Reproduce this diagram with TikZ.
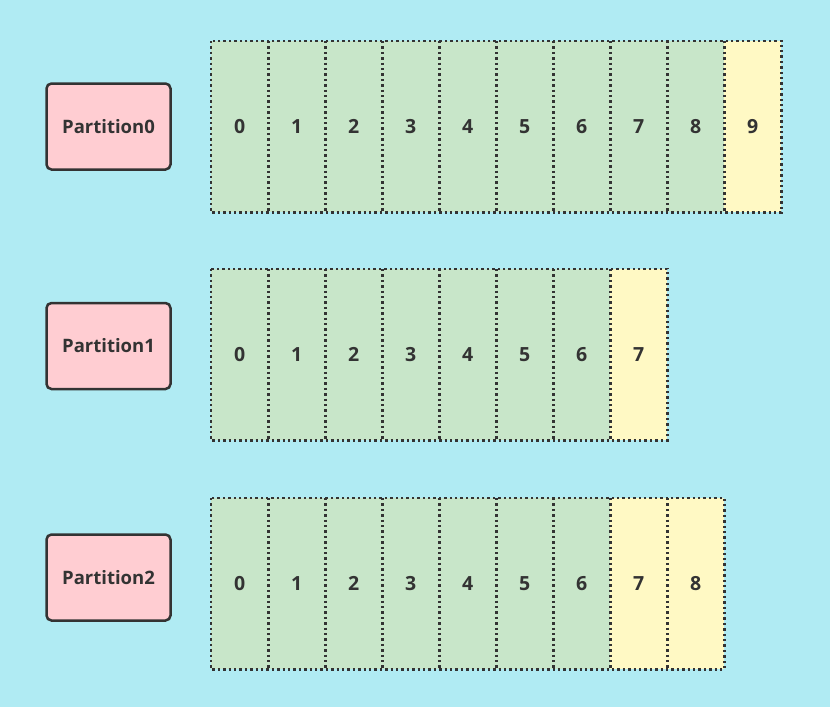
\documentclass[tikz,border=0pt]{standalone}
\usepackage{fontspec}
\setmainfont{Open Sans}
\definecolor{bgc}{HTML}{B0EBF3}
\definecolor{cellg}{HTML}{C8E6C9}
\definecolor{celly}{HTML}{FFF9C4}
\definecolor{pinkc}{HTML}{FFCDD2}
\definecolor{inkc}{HTML}{333333}
\begin{document}
\begin{tikzpicture}[x=1pt,y=-1pt,
  cellbox/.style={minimum width=57pt, minimum height=171pt, inner sep=0pt, anchor=north west, font=\bfseries\fontsize{19.5}{22}\selectfont, text=inkc},
  gcell/.style={cellbox, fill=cellg},
  ycell/.style={cellbox, fill=celly},
  dotline/.style={draw=inkc, line width=2.4pt, dash pattern=on 2.4pt off 3pt},
  partbox/.style={draw=inkc, line width=2.5pt, rounded corners=5pt, fill=pinkc, minimum width=124pt, minimum height=86pt, inner sep=0pt, font=\bfseries\fontsize{18.5}{22}\selectfont, text=inkc}]
\fill[bgc] (0,0) rectangle (830,707);
\useasboundingbox (0,0) rectangle (830,707);
% Row 0
\node[partbox] (p0) at (108.5,126.5) {Partition0};
\foreach \i/\x in {0/211,1/268,2/325,3/382,4/439,5/496,6/553,7/610,8/667} {
  \node[gcell] (r0c\i) at (\x,41) {\i};
}
\node[ycell] (r0c9) at (724,41) {9};
\draw[dotline] (r0c0.north west) rectangle (r0c9.south east);
\foreach \i in {0,...,8} { \draw[dotline] (r0c\i.north east) -- (r0c\i.south east); }
% Row 1
\node[partbox] (p1) at (108.5,346) {Partition1};
\foreach \i/\x in {0/211,1/268,2/325,3/382,4/439,5/496,6/553} {
  \node[gcell] (r1c\i) at (\x,269) {\i};
}
\node[ycell] (r1c7) at (610,269) {7};
\draw[dotline] (r1c0.north west) rectangle (r1c7.south east);
\foreach \i in {0,...,6} { \draw[dotline] (r1c\i.north east) -- (r1c\i.south east); }
% Row 2
\node[partbox] (p2) at (108.5,577.5) {Partition2};
\foreach \i/\x in {0/211,1/268,2/325,3/382,4/439,5/496,6/553} {
  \node[gcell] (r2c\i) at (\x,498) {\i};
}
\node[ycell] (r2c7) at (610,498) {7};
\node[ycell] (r2c8) at (667,498) {8};
\draw[dotline] (r2c0.north west) rectangle (r2c8.south east);
\foreach \i in {0,...,7} { \draw[dotline] (r2c\i.north east) -- (r2c\i.south east); }
\end{tikzpicture}
\end{document}
